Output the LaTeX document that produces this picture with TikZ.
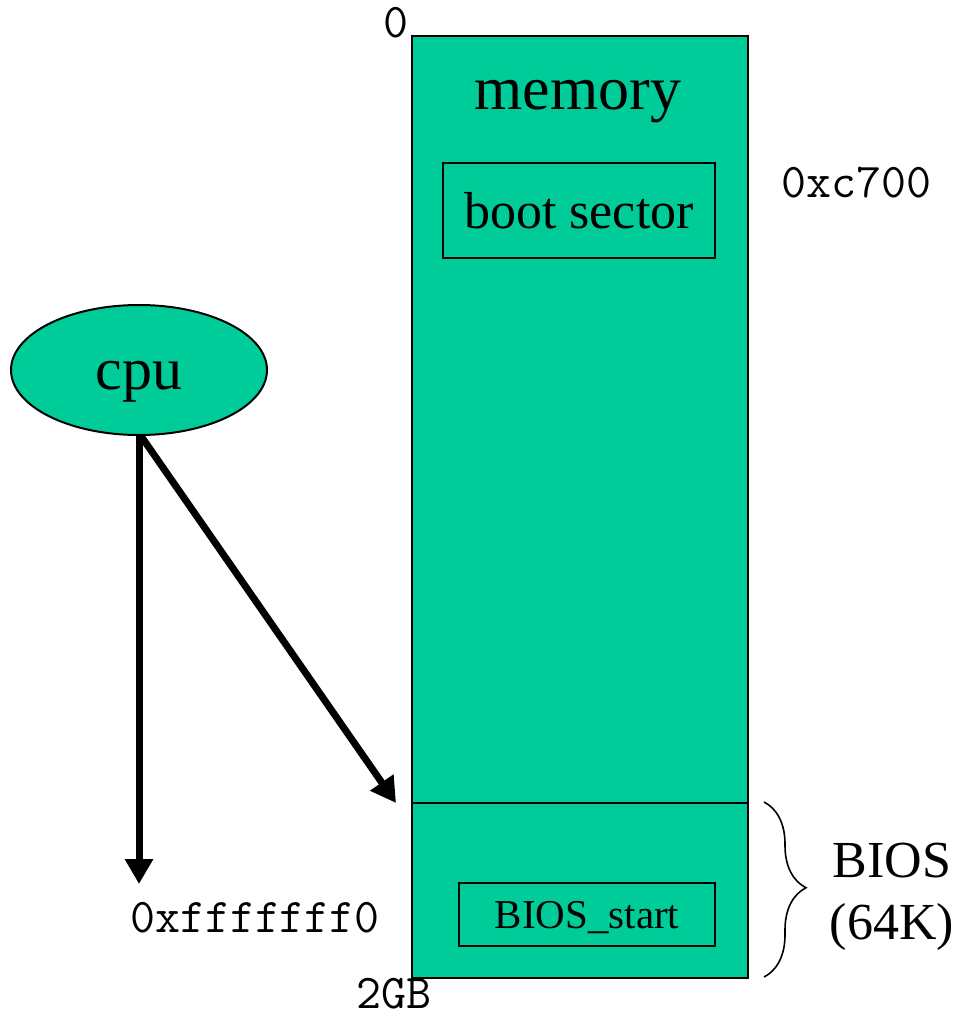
\documentclass[tikz,border=0pt]{standalone}
\usepackage{fontspec}
\setmainfont{Liberation Serif}
\usetikzlibrary{arrows.meta,shapes.geometric,decorations.pathreplacing}
\definecolor{memgreen}{RGB}{0,204,153}
\tikzset{
  block/.style={draw=black, line width=2pt, fill=memgreen, inner sep=0pt},
  inner/.style={draw=black, line width=1.6pt, inner sep=0pt},
  addr/.style={inner sep=0pt, font=\fontsize{48.5}{48.5}\selectfont\ttfamily},
  bigarrow/.style={line width=7pt, -{Triangle[length=25pt,width=27pt]}},
}
\begin{document}
\begin{tikzpicture}[x=1pt,y=-1pt]
\useasboundingbox (0,0) rectangle (957,1020);
% memory column: main area and BIOS area
\node[block, minimum width=336pt, minimum height=767pt, anchor=north west] (mem) at (411,35) {};
\node[block, minimum width=336pt, minimum height=175pt, anchor=north west] (bios) at (411,802) {};
\node[inner sep=0pt, font=\fontsize{62}{62}\selectfont] (memlbl) at (578,102) {memory};
\node[inner, minimum width=272pt, minimum height=95pt, font=\fontsize{52}{52}\selectfont] (boot) at (579,210.5) {boot sector};
\node[inner, minimum width=256pt, minimum height=63pt] (biosstart) at (587,914.5) {};
\node[inner sep=0pt, font=\fontsize{41}{41}\selectfont] (biosstartlbl) at (587,918) {BIOS\_start};
% cpu
\node[block, ellipse, minimum width=256pt, minimum height=130pt] (cpu) at (139,370) {};
\node[inner sep=0pt, font=\fontsize{60}{60}\selectfont] (cpulbl) at (139,382) {cpu};
% addresses
\node[addr, anchor=south east] (a0) at (409,38) {0};
\node[addr, anchor=west] (ac700) at (781,183) {0xc700};
\node[addr, anchor=north] (aff) at (255,902) {0xfffffff0};
\node[addr, anchor=base, text depth=0pt] (a2gb) at (394,1008) {2GB};
% arrows from the cpu
\coordinate (tip1) at (139,884);
\coordinate (tip2) at (396,803);
\draw[bigarrow] (cpu.south) -- (tip1);
\draw[bigarrow] ([xshift=2pt]cpu.south) -- (tip2);
% brace over the BIOS region
\coordinate (bt) at (764,802);
\coordinate (bb) at (764,977);
\draw[line width=1.6pt, decorate, decoration={brace, amplitude=42pt, aspect=0.49}] (bt) -- (bb);
\node[inner sep=0pt, align=center, font=\fontsize{52}{62}\selectfont] (bioslbl) at (892,897) {BIOS\\(64K)};
\end{tikzpicture}
\end{document}
